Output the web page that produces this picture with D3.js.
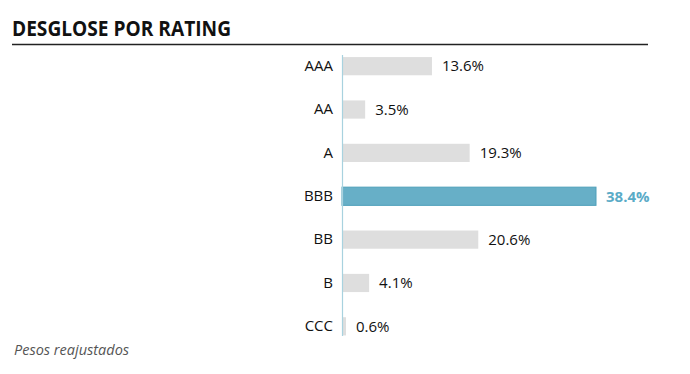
<!DOCTYPE html>
<html><head><meta charset="utf-8">
<script src="https://cdn.jsdelivr.net/npm/d3@7"></script>
<style>body{margin:0;background:#fff}</style>
</head><body>
<svg id="c" width="690" height="374"></svg>
<script>
const categories = ["AAA","AA","A","BBB","BB","B","CCC"];
const values = [13.6, 3.5, 19.3, 38.4, 20.6, 4.1, 0.6];
const highlight = "BBB";
const title = "DESGLOSE POR RATING";
const note = "Pesos reajustados";

const svg = d3.select("#c");
const font = "'Open Sans', sans-serif";
svg.append("text").attr("x",12).attr("y",36).text(title)
  .attr("font-family",font).attr("font-weight",700).attr("font-size",20.5).attr("fill","#111")
  .attr("textLength",219).attr("lengthAdjust","spacingAndGlyphs");
svg.append("line").attr("x1",12).attr("x2",648).attr("y1",44.5).attr("y2",44.5)
  .attr("stroke","#222").attr("stroke-width",1.5);

const x0 = 342;
const x = d3.scaleLinear().domain([0,38.4]).range([x0,596]);
const y = d3.scaleBand().domain(categories).range([44.5,348]).paddingInner(0.58).paddingOuter(0.29);

const g = svg.append("g");
g.selectAll("rect").data(categories).join("rect")
  .attr("x",x0).attr("y",d=>y(d)).attr("width",(d,i)=>x(values[i])-x0).attr("height",y.bandwidth())
  .attr("fill",d=>d===highlight?"#67afc7":"#dedede")
  .attr("stroke",d=>d===highlight?"#4e9fba":"none").attr("stroke-width",1);

const axis = d3.axisLeft(y).tickSize(0).tickPadding(9);
const ag = svg.append("g").attr("transform",`translate(${x0},0)`).call(axis);
ag.select(".domain").remove();
ag.selectAll("text").attr("font-family",font).attr("font-size",15).attr("fill","#111");
svg.append("line").attr("x1",x0+0.5).attr("x2",x0+0.5).attr("y1",55).attr("y2",336)
  .attr("stroke","#a8d2df").attr("stroke-width",1.2);

g.selectAll("text.v").data(categories).join("text").attr("class","v")
  .attr("x",(d,i)=>x(values[i])+10).attr("y",d=>y(d)+y.bandwidth()/2).attr("dy","0.35em")
  .text((d,i)=>values[i].toFixed(1)+"%")
  .attr("font-family",font).attr("font-size",15)
  .attr("font-weight",d=>d===highlight?700:400)
  .attr("fill",d=>d===highlight?"#5aabc7":"#111");

svg.append("text").attr("x",14).attr("y",355).text(note)
  .attr("font-family",font).attr("font-style","italic").attr("font-size",14.5).attr("fill","#555");
</script>
</body></html>
